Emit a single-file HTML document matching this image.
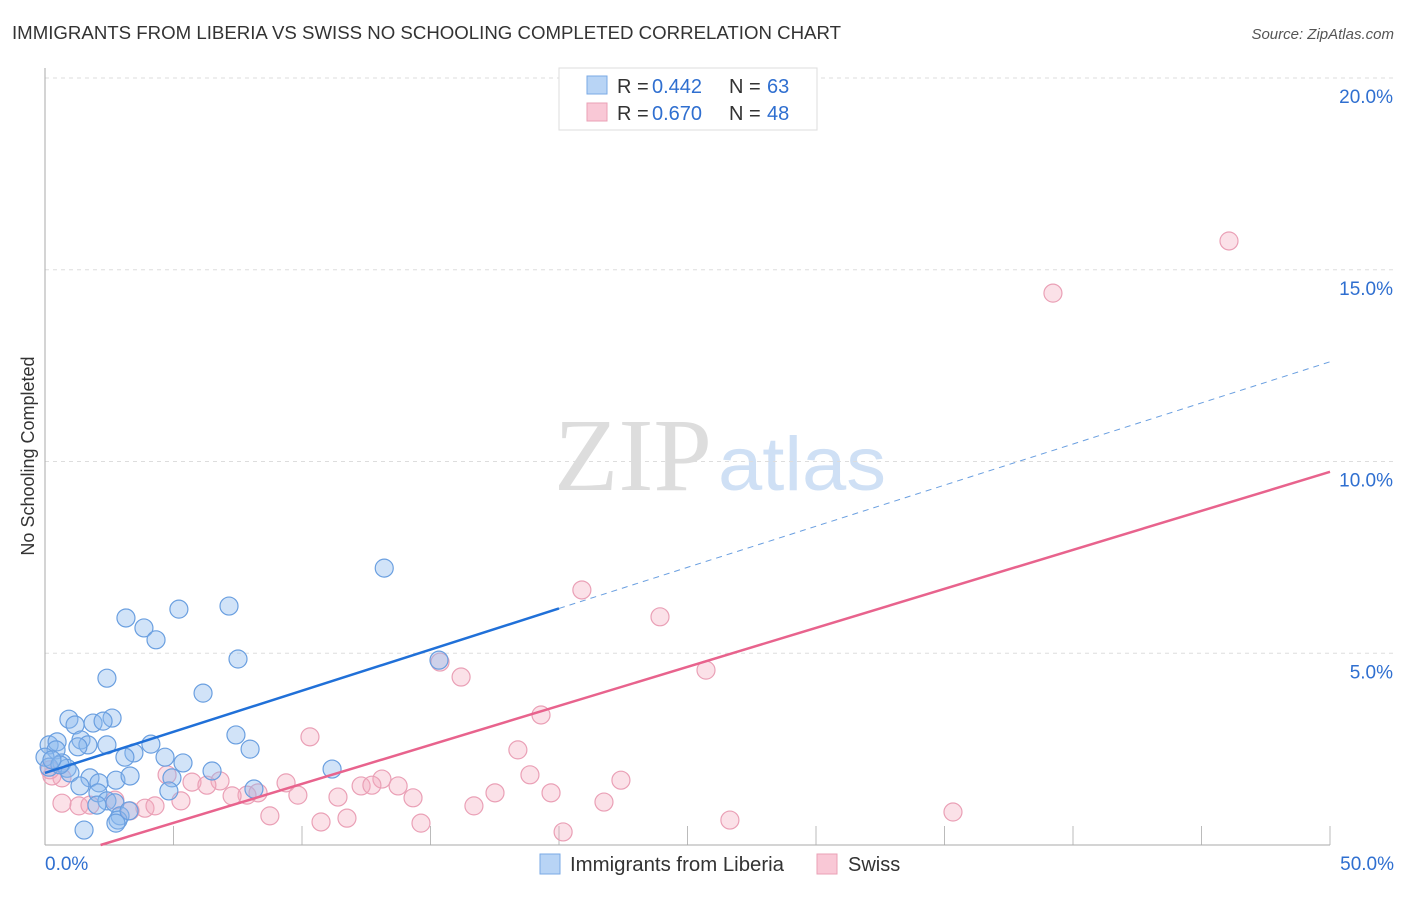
<!DOCTYPE html>
<html><head><meta charset="utf-8"><style>
body{margin:0;background:#fff;font-family:"Liberation Sans",sans-serif;}
svg text{font-family:"Liberation Sans",sans-serif;}
</style></head><body>
<svg id="chart" width="1406" height="892">
<text x="12" y="39" font-size="18" fill="#333" textLength="829" lengthAdjust="spacingAndGlyphs">IMMIGRANTS FROM LIBERIA VS SWISS NO SCHOOLING COMPLETED CORRELATION CHART</text>
<text x="1394" y="39" font-size="15" fill="#555" font-style="italic" text-anchor="end">Source: ZipAtlas.com</text>
<text x="34" y="456" font-size="18" fill="#333" transform="rotate(-90 34 456)" text-anchor="middle">No Schooling Completed</text>
<text x="712" y="490" font-size="104" fill="#ddd" text-anchor="end" style="font-family:'Liberation Serif',serif" textLength="158" lengthAdjust="spacingAndGlyphs">ZIP</text>
<text x="718" y="490" font-size="76" fill="#cfe0f5" textLength="168" lengthAdjust="spacingAndGlyphs">atlas</text>
<g id="grid"></g><g id="ticks"></g>
<line x1="45" y1="68" x2="45" y2="845" stroke="#aaa"/>
<line x1="45" y1="845" x2="1330" y2="845" stroke="#aaa"/>
<g id="pts"></g><g id="lines"></g>
<g>
<rect x="559" y="68" width="258" height="62" fill="#fff" stroke="#ddd"/>
<rect x="587" y="76" width="20" height="18" fill="#b8d4f5" stroke="#7aaae5"/>
<rect x="587" y="103" width="20" height="18" fill="#f9c8d6" stroke="#eaa0b6"/>
<text x="617" y="93" font-size="20" fill="#333">R =</text><text x="652" y="93" font-size="20" fill="#2f6fd0">0.442</text>
<text x="729" y="93" font-size="20" fill="#333">N =</text><text x="767" y="93" font-size="20" fill="#2f6fd0">63</text>
<text x="617" y="120" font-size="20" fill="#333">R =</text><text x="652" y="120" font-size="20" fill="#2f6fd0">0.670</text>
<text x="729" y="120" font-size="20" fill="#333">N =</text><text x="767" y="120" font-size="20" fill="#2f6fd0">48</text>
</g>
<g>
<rect x="540" y="854" width="20" height="20" fill="#b8d4f5" stroke="#7aaae5"/>
<text x="570" y="871" font-size="20" fill="#333" textLength="214" lengthAdjust="spacingAndGlyphs">Immigrants from Liberia</text>
<rect x="817" y="854" width="20" height="20" fill="#f9c8d6" stroke="#eaa0b6"/>
<text x="848" y="871" font-size="20" fill="#333">Swiss</text>
</g>
</svg>
<script>
const yTicks=[5,10,15,20];
const yTickLabels=["5.0%","10.0%","15.0%","20.0%"];
const xTickLabels=["0.0%","50.0%"];
const blueX=[13.2,3.15,7.16,5.21,3.85,4.32,15.33,7.51,2.41,6.15,0.93,2.61,1.87,2.26,1.17,7.43,0.16,0.47,1.40,1.67,2.41,4.12,0.43,1.28,7.98,3.46,3.11,4.67,5.37,0.0,0.66,0.16,0.86,0.97,6.5,11.17,1.75,2.76,3.31,4.94,2.1,1.36,2.06,8.13,4.82,2.41,2.72,2.02,2.92,2.84,2.76,1.52,3.27,0.58,0.27];
const blueY=[7.22,5.92,6.23,6.15,5.66,5.35,4.82,4.85,4.35,3.96,3.28,3.31,3.18,3.23,3.13,2.87,2.61,2.69,2.74,2.61,2.61,2.63,2.48,2.56,2.5,2.4,2.29,2.29,2.14,2.29,2.14,2.03,2.0,1.88,1.93,1.98,1.75,1.69,1.8,1.75,1.62,1.54,1.36,1.46,1.41,1.15,1.1,1.04,0.76,0.65,0.57,0.39,0.89,2.09,2.22];
const pinkX=[46.07,39.22,20.89,23.93,15.37,16.19,25.72,19.3,10.31,18.4,4.75,18.87,13.11,22.41,0.66,0.27,5.72,6.81,6.3,9.38,12.3,13.74,7.86,7.28,9.84,12.72,11.4,14.32,17.51,19.69,21.75,5.29,8.29,1.32,2.72,3.89,4.28,3.31,0.66,16.69,1.75,8.75,11.75,10.74,14.63,20.16,26.65,35.33,0.19];
const pinkY=[15.75,14.39,6.65,5.95,4.77,4.38,4.56,3.39,2.82,2.48,1.83,1.83,1.72,1.69,1.75,1.8,1.64,1.67,1.56,1.62,1.54,1.54,1.3,1.28,1.3,1.56,1.25,1.23,1.36,1.36,1.12,1.15,1.36,1.02,1.17,0.96,1.02,0.89,1.09,1.02,1.04,0.76,0.7,0.6,0.57,0.34,0.65,0.86,1.96];
const blueTrend=[1.88,12.6]; const blueSolidEnd=20.0;
const pinkTrend=[-0.44,9.73];
const X=v=>45+v*25.7, Y=v=>845-v*38.35;
const NS="http://www.w3.org/2000/svg";
function mk(t,a,p){const e=document.createElementNS(NS,t);for(const k in a)e.setAttribute(k,a[k]);document.getElementById(p).appendChild(e);return e;}
yTicks.forEach((t,i)=>{
 const g=mk('line',{x1:45,x2:1394,y1:Y(t),y2:Y(t),stroke:'#ddd','stroke-dasharray':'4,4'},'grid');
 
 
 const l=mk('text',{x:1393,y:Y(t)+25,'font-size':19,fill:'#2f6fd0','text-anchor':'end'},'grid');l.textContent=yTickLabels[i];
 
 
});
for(let v=5;v<=50;v+=5){const t=mk('line',{x1:X(v),x2:X(v),y1:826,y2:845,stroke:'#bbb'},'ticks');
 
 }
[[0,xTickLabels[0],'start',45],[50,xTickLabels[1],'end',1394]].forEach(a=>{const l=mk('text',{x:a[3],y:870,'font-size':19,fill:'#2f6fd0','text-anchor':a[2]},'ticks');l.textContent=a[1];
 
 });
pinkX.forEach((x,i)=>{const c=mk('circle',{cx:X(x),cy:Y(pinkY[i]),r:9,fill:'rgba(244,168,190,0.35)',stroke:'#eaa0b6','stroke-width':1.2},'pts');
 
 });
blueX.forEach((x,i)=>{const c=mk('circle',{cx:X(x),cy:Y(blueY[i]),r:9,fill:'rgba(140,185,238,0.4)',stroke:'#6a9fe0','stroke-width':1.2},'pts');
 
 });
const bY=x=>blueTrend[0]+(blueTrend[1]-blueTrend[0])*x/50;
let l1=mk('line',{x1:X(0),y1:Y(bY(0)),x2:X(blueSolidEnd),y2:Y(bY(blueSolidEnd)),stroke:'#2070d8','stroke-width':2.5},'lines');


let l2=mk('line',{x1:X(blueSolidEnd),y1:Y(bY(blueSolidEnd)),x2:X(50),y2:Y(bY(50)),stroke:'#6a9fe0','stroke-width':1,'stroke-dasharray':'6,5'},'lines');


const pY=x=>pinkTrend[0]+(pinkTrend[1]-pinkTrend[0])*x/50;
const x0=-pinkTrend[0]*50/(pinkTrend[1]-pinkTrend[0]);
let l3=mk('line',{x1:X(x0),y1:Y(pY(x0)),x2:X(50),y2:Y(pY(50)),stroke:'#e8638d','stroke-width':2.5},'lines');


</script>
</body></html>
